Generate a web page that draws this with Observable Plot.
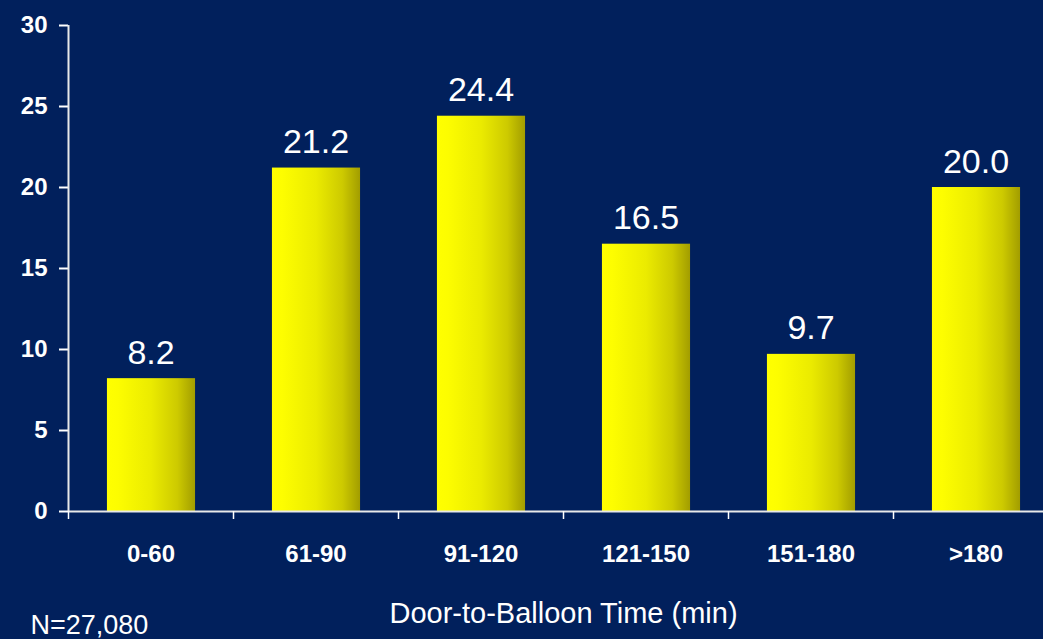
<!DOCTYPE html>
<html>
<head>
<meta charset="utf-8">
<script src="https://cdn.jsdelivr.net/npm/d3@7"></script>
<script src="https://cdn.jsdelivr.net/npm/@observablehq/plot@0.6"></script>
<style>
  html, body { margin: 0; padding: 0; background: #01205c; overflow: hidden; }
  #chart svg { display: block; }
</style>
</head>
<body>
<div id="chart"></div>
<script>
// Door-to-balloon time groups and share of patients (%) in each
const categories = ["0-60", "61-90", "91-120", "121-150", "151-180", ">180"];
const percents = [8.2, 21.2, 24.4, 16.5, 9.7, 20.0];
const yTicks = [0, 5, 10, 15, 20, 25, 30];
const xTitle = "Door-to-Balloon Time (min)";
const sampleNote = "N=27,080";

const table = categories.map((cat, i) => ({cat, pos: i, value: percents[i]}));
const bounds = [0, ...categories.map((_, i) => i + 1)];
const centers = categories.map((_, i) => i + 0.5);

const font = "'Liberation Sans', Arial, Helvetica, sans-serif";

// Horizontal yellow-to-olive shading used on every bar
const gradientDefs = () => {
  const defs = d3.create("svg:defs");
  const g = defs.append("linearGradient")
    .attr("id", "barGold")
    .attr("x1", "0").attr("x2", "1").attr("y1", "0").attr("y2", "0");
  [["0%", "#ffff00"], ["12%", "#fdfd00"], ["50%", "#ebeb00"], ["80%", "#cdca00"], ["100%", "#a29d00"]]
    .forEach(([o, c]) => g.append("stop").attr("offset", o).attr("stop-color", c));
  return defs.node();
};

const chart = Plot.plot({
  width: 1043,
  height: 639,
  marginLeft: 68,
  marginTop: 25,
  marginBottom: 128,
  marginRight: 0,
  style: {background: "#01205c", color: "white", fontFamily: font, overflow: "hidden"},
  x: {type: "linear", domain: [0, categories.length], range: [68, 1058]},
  y: {domain: [0, 30], range: [511, 25]},
  marks: [
    gradientDefs,
    Plot.rectY(table, {x1: d => d.pos + 0.236, x2: d => d.pos + 0.77, y: "value", fill: "url(#barGold)"}),
    Plot.text(table, {
      x: d => d.pos + 0.5, y: "value", text: d => d.value.toFixed(1),
      fill: "white", fontSize: 34, lineAnchor: "bottom", dy: -15
    }),
    Plot.axisY({ticks: yTicks, tickSize: 9, tickPadding: 12, fontSize: 24, fontWeight: "bold", label: null, strokeWidth: 2}),
    Plot.ruleX([0], {y1: 0, y2: 30, stroke: "#e8e8e8", strokeWidth: 2}),
    Plot.ruleY([0], {x1: 0, x2: categories.length, stroke: "#e8e8e8", strokeWidth: 2}),
    Plot.axisX({ticks: bounds, tickSize: 8, tickFormat: () => "", label: null, strokeWidth: 1.5}),
    Plot.axisX({
      ticks: centers, tickSize: 0, tickPadding: 33, fontSize: 24, fontWeight: "bold",
      tickFormat: v => categories[Math.floor(v)], label: null
    }),
    Plot.text([xTitle], {x: 3, frameAnchor: "bottom", lineAnchor: "bottom", dy: 111, fontSize: 29, fill: "white", text: d => d}),
    Plot.text([sampleNote], {frameAnchor: "bottom-left", textAnchor: "start", lineAnchor: "bottom", dx: -38, dy: 122, fontSize: 27, fill: "white", text: d => d})
  ]
});

document.getElementById("chart").append(chart);
</script>
</body>
</html>
